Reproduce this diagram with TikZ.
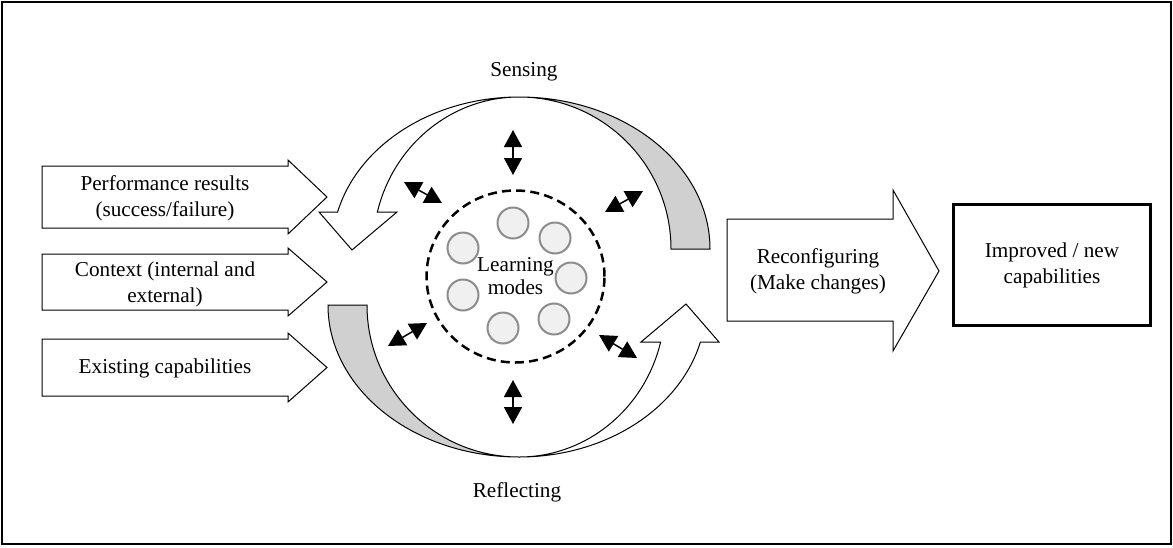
\documentclass[tikz,border=0pt]{standalone}
\usepackage{fontspec}
\setmainfont{Liberation Serif}
\usetikzlibrary{arrows.meta,shapes.geometric}

\definecolor{backgray}{HTML}{D0D0D0}
\definecolor{modefill}{HTML}{F0F0F0}
\definecolor{modeline}{HTML}{8C8C8C}

\tikzset{
    txt/.style={align=center, font=\fontsize{10.6}{13}\selectfont},
    blockarrow/.style={draw=black, line width=0.5pt, fill=white, line join=miter},
    modecircle/.style={draw=modeline, line width=1pt, fill=modefill},
    twohead/.style={{Triangle[length=8.5pt,width=9pt]}-{Triangle[length=8.5pt,width=9pt]}, line width=0.75pt},
    % half of the turning band: grey back on the right, white front with head on the left
    twist/.pic={
        \filldraw[fill=backgray, line width=0.5pt]
            (0,-180) arc[start angle=270, end angle=360, x radius=191, y radius=152]
            -- (152,-28) arc[start angle=0, end angle=-90, radius=152] -- cycle;
        \filldraw[fill=white, line width=0.5pt, line join=miter]
            (-181.4,-65) arc[start angle=194.09, end angle=270, x radius=187, y radius=152]
            arc[start angle=270, end angle=194.09, x radius=146, y radius=152]
            -- (-122,-65) -- (-167,-27) -- (-200,-65) -- cycle;
    }
}

\begin{document}
\begin{tikzpicture}[x=0.5pt,y=-0.5pt]
        \useasboundingbox (0,0) rectangle (1173,547);
        % outer frame
        \draw[line width=0.9pt] (2,2) rectangle (1171,544);

        % the three inputs
        \foreach \t/\b in {166/228, 254/310, 339/396}
                \draw[blockarrow] (42,\t) -- (288,\t) -- (288,\t-6) -- (327,{(\t+\b)/2})
                        -- (288,\b+6) -- (288,\b) -- (42,\b) -- cycle;
        \node[txt] (perf)  at (165,198)   {Performance results\\(success/failure)};
        \node[txt] (ctx)   at (165,284.5) {Context (internal and\\external)};
        \node[txt] (exist) at (165,368)   {Existing capabilities};

        % sensing above, reflecting below
        \pic at (519,277) {twist};
        \pic[rotate=180] at (519,277) {twist};
        \node[txt] (sensing)    at (524,72)  {Sensing};
        \node[txt] (reflecting) at (517,492) {Reflecting};

        % learning modes
        \foreach \x/\y in {513/223, 555/238, 463/248, 571/278, 463/295, 554/319, 503/328}
                \draw[modecircle] (\x,\y) circle[radius=15.5];
        \node[draw, ellipse, line width=1.25pt, dash pattern=on 4.5pt off 2.6pt,
              minimum width=89pt, minimum height=86pt,
              align=center, font=\fontsize{10.6}{11.5}\selectfont] (hub) at (515.5,276.5) {Learning\\modes};

        % links between the modes and the cycle
        \foreach \i/\xa/\ya/\xb/\yb in {1/513/130/513/175, 2/404/182/442/203, 3/605/212/643/191,
                                        4/427/323/388/346, 5/599/335/637/358, 6/513/380/513/424} {
                \coordinate (lnka\i) at (\xa,\ya);
                \coordinate (lnkb\i) at (\xb,\yb);
                \draw[twohead] (lnka\i) -- (lnkb\i);
        }

        % output
        \draw[blockarrow] (727,219) -- (893,219) -- (893,190) -- (939,271)
                -- (893,351) -- (893,321) -- (727,321) -- cycle;
        \node[txt] (reconf) at (818,271) {Reconfiguring\\(Make changes)};
        \node[txt, draw, line width=1.5pt, minimum width=98.5pt, minimum height=60.5pt]
                (improved) at (1052,265) {Improved / new\\capabilities};
\end{tikzpicture}
\end{document}
